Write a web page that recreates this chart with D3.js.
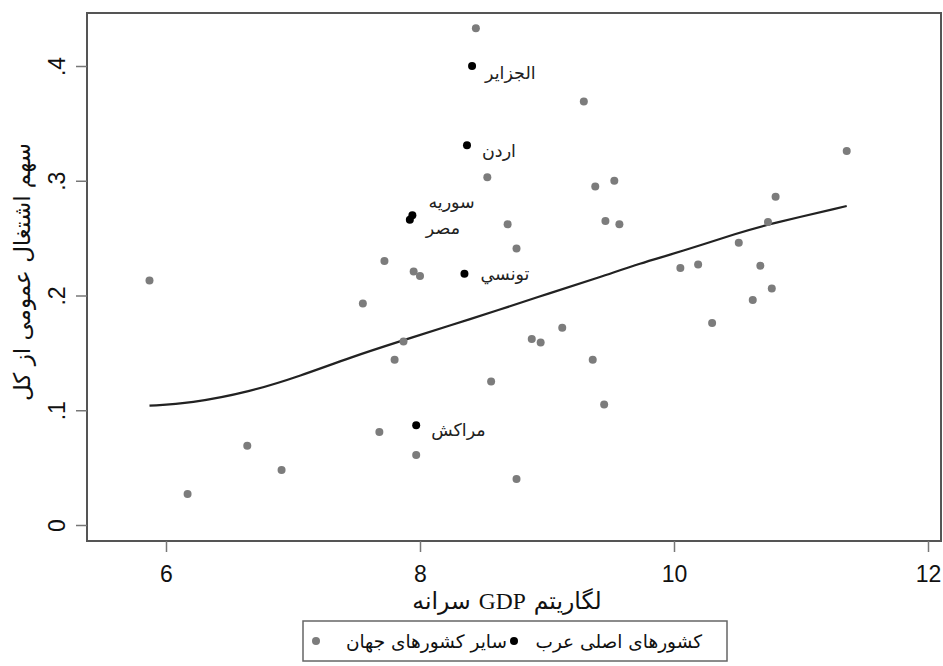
<!DOCTYPE html>
<html>
<head>
<meta charset="utf-8">
<script src="https://cdn.jsdelivr.net/npm/d3@7"></script>
<style>
  body { margin: 0; background: #fff; }
  svg { display: block; }
</style>
</head>
<body>
<svg id="chart"></svg>
<script>
// log GDP per capita (x) and public employment share (y)
var otherGdp = [5.87, 6.17, 6.64, 6.91, 7.55, 7.72, 7.68, 7.80, 7.87, 7.95, 8.00, 7.97,
  8.44, 8.53, 8.56, 8.69, 8.76, 8.76, 8.88, 8.95, 9.12, 9.29, 9.38, 9.36, 9.46, 9.53,
  9.57, 9.45, 10.05, 10.19, 10.30, 10.51, 10.62, 10.68, 10.74, 10.77, 10.80, 11.36];
var otherShare = [0.213, 0.027, 0.069, 0.048, 0.193, 0.230, 0.081, 0.144, 0.160, 0.221, 0.217, 0.061,
  0.433, 0.303, 0.125, 0.262, 0.241, 0.040, 0.162, 0.159, 0.172, 0.369, 0.295, 0.144, 0.265, 0.300,
  0.262, 0.105, 0.224, 0.227, 0.176, 0.246, 0.196, 0.226, 0.264, 0.206, 0.286, 0.326];

var arabNames = ['الجزایر', 'اردن', 'سوریه', 'مصر', 'تونسي', 'مراکش'];
var arabGdp = [8.41, 8.37, 7.94, 7.92, 8.35, 7.97];
var arabShare = [0.400, 0.331, 0.270, 0.266, 0.219, 0.087];

// smoothed fit
var fitX = [5.87, 6.19, 6.66, 7.06, 7.45, 7.84, 8.24, 8.61, 9.02, 9.42, 9.73, 10.05, 10.52, 10.74, 11.36];
var fitY = [0.104, 0.106, 0.116, 0.130, 0.146, 0.160, 0.174, 0.187, 0.202, 0.216, 0.228, 0.238, 0.255, 0.262, 0.278];

var xTicks = [6, 8, 10, 12];
var yTicks = [0, 0.1, 0.2, 0.3, 0.4];
var yTickLabels = ['0', '.1', '.2', '.3', '.4'];

var xTitle = 'لگاریتم GDP سرانه';
var yTitle = 'سهم اشتغال عمومی از کل';
var legendLabels = ['سایر کشورهای جهان', 'کشورهای اصلی عرب'];

var W = 943, H = 666;
var frame = {left: 87, right: 941, top: 13, bottom: 541};

var svg = d3.select('#chart').attr('width', W).attr('height', H);

var x = d3.scaleLinear().domain([6, 12]).range([166, 928]);
var y = d3.scaleLinear().domain([0, 0.4]).range([525, 66]);

var arabicFont = '"DejaVu Sans", sans-serif';
var numFont = '"Liberation Sans", Arial, sans-serif';

// plot frame
svg.append('rect')
    .attr('x', frame.left)
    .attr('y', frame.top)
    .attr('width', frame.right - frame.left)
    .attr('height', frame.bottom - frame.top)
    .attr('fill', 'none')
    .attr('stroke', '#555')
    .attr('stroke-width', 2);

// y axis ticks (labels rotated, stata style)
var yAxis = d3.axisLeft(y).tickValues(yTicks).tickSize(11)
    .tickFormat((d, i) => yTickLabels[i]);
var gy = svg.append('g')
    .attr('transform', 'translate(' + frame.left + ',0)')
    .call(yAxis);
gy.select('.domain').remove();
gy.selectAll('line').attr('stroke', '#777').attr('stroke-width', 1.5);
gy.selectAll('text')
    .attr('x', null).attr('dy', null)
    .attr('transform', 'translate(-30,0) rotate(-90)')
    .attr('text-anchor', 'middle')
    .attr('dominant-baseline', 'central')
    .style('font-family', numFont)
    .style('font-size', '23px')
    .attr('fill', '#111');

// x axis
var xAxis = d3.axisBottom(x).tickValues(xTicks).tickSize(11).tickFormat(d3.format('d'));
var gx = svg.append('g')
    .attr('transform', 'translate(0,' + frame.bottom + ')')
    .call(xAxis);
gx.select('.domain').remove();
gx.selectAll('line').attr('stroke', '#777').attr('stroke-width', 1.5);
gx.selectAll('text')
    .attr('y', 33).attr('dy', null)
    .attr('dominant-baseline', 'central')
    .style('font-family', numFont)
    .style('font-size', '23px')
    .attr('fill', '#111');

// x title: words laid out right to left (persian reading order)
var xtg = svg.append('g');
var words = xTitle.split(' ').map(function(p) {
  return xtg.append('text')
      .attr('y', 601)
      .attr('dominant-baseline', 'central')
      .style('font-family', '"Liberation Serif", "DejaVu Sans", serif')
      .style('font-size', '23.5px')
      .attr('fill', '#111')
      .text(p);
});
var gap = 8;
var widths = words.map(w => w.node().getComputedTextLength());
var total = d3.sum(widths) + gap * (words.length - 1);
var cursor = 507 + total / 2;
words.forEach(function(w, i) {
  cursor -= widths[i];
  w.attr('x', cursor);
  cursor -= gap;
});

svg.append('text')
    .attr('transform', 'translate(22,272) rotate(-90)')
    .attr('text-anchor', 'middle')
    .attr('dominant-baseline', 'central')
    .style('font-family', arabicFont)
    .style('font-size', '23px')
    .attr('fill', '#111')
    .text(yTitle);

// fitted curve
var line = d3.line()
    .x((d, i) => x(fitX[i]))
    .y((d, i) => y(fitY[i]))
    .curve(d3.curveBasis);
svg.append('path')
    .datum(fitX)
    .attr('d', line)
    .attr('fill', 'none')
    .attr('stroke', '#222')
    .attr('stroke-width', 2.2);

// other countries
svg.append('g').selectAll('circle')
    .data(otherGdp)
    .enter()
    .append('circle')
      .attr('cx', d => x(d))
      .attr('cy', (d, i) => y(otherShare[i]))
      .attr('r', 4)
      .attr('fill', '#7c7c7c');

// arab countries
var labelOffset = [[13, 7], [15, 6], [16, -13], [16, 8], [16, 0], [15, 5]];
var ga = svg.append('g');
ga.selectAll('circle')
    .data(arabGdp)
    .enter()
    .append('circle')
      .attr('cx', d => x(d))
      .attr('cy', (d, i) => y(arabShare[i]))
      .attr('r', 4)
      .attr('fill', '#000');
ga.selectAll('text')
    .data(arabNames)
    .enter()
    .append('text')
      .attr('x', (d, i) => x(arabGdp[i]) + labelOffset[i][0])
      .attr('y', (d, i) => y(arabShare[i]) + labelOffset[i][1])
      .attr('dominant-baseline', 'central')
      .style('font-family', arabicFont)
      .style('font-size', '17.5px')
      .attr('fill', '#222')
      .text(d => d);

// legend
var lg = svg.append('g');
lg.append('rect')
    .attr('x', 303).attr('y', 621)
    .attr('width', 424).attr('height', 40)
    .attr('fill', '#fff')
    .attr('stroke', '#666')
    .attr('stroke-width', 1.5);
var legendColors = ['#7c7c7c', '#000'];
var legendDotX = [316, 514];
var legendTextEnd = [507, 702];
legendLabels.forEach(function(lab, i) {
  lg.append('circle')
      .attr('cx', legendDotX[i]).attr('cy', 641)
      .attr('r', 4)
      .attr('fill', legendColors[i]);
  lg.append('text')
      .attr('x', legendTextEnd[i]).attr('y', 641)
      .attr('text-anchor', 'end')
      .attr('dominant-baseline', 'central')
      .style('font-family', arabicFont)
      .style('font-size', '18.5px')
      .attr('fill', '#111')
      .text(lab);
});
</script>
</body>
</html>
